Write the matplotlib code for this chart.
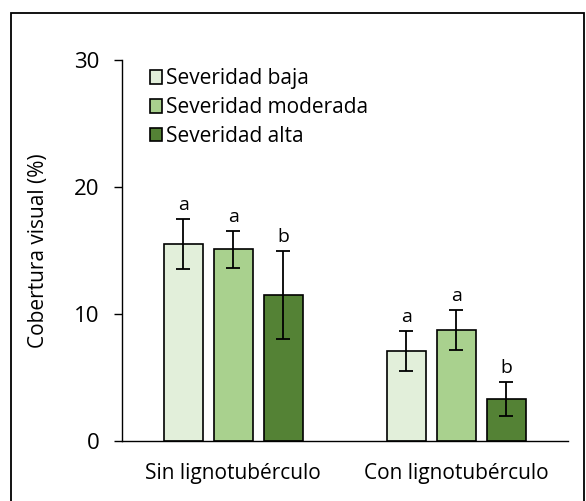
import numpy as np
import matplotlib.pyplot as plt
from matplotlib.patches import Rectangle

plt.rcParams['font.family'] = ['Open Sans', 'DejaVu Sans']

grupos = ['Sin lignotubérculo', 'Con lignotubérculo']
series = ['Severidad baja', 'Severidad moderada', 'Severidad alta']
medias = {
    'Severidad baja': [15.5, 7.1],
    'Severidad moderada': [15.1, 8.75],
    'Severidad alta': [11.5, 3.3],
}
errores = {
    'Severidad baja': [1.95, 1.56],
    'Severidad moderada': [1.45, 1.57],
    'Severidad alta': [3.45, 1.33],
}
letras = {
    'Severidad baja': ['a', 'a'],
    'Severidad moderada': ['a', 'a'],
    'Severidad alta': ['b', 'b'],
}
colores = ['#E2EFDA', '#A9D18E', '#548235']

fig = plt.figure(figsize=(5.86, 5.01), dpi=100)
ax = fig.add_axes([121.5 / 586, 1 - 441 / 501, (568 - 121.5) / 586, (441 - 60) / 501])

# marco exterior del gráfico
fig.patches.append(Rectangle((11 / 586, -0.05), (584 - 11) / 586, 1.05 - 12.5 / 501,
                             transform=fig.transFigure, fill=False,
                             edgecolor='black', linewidth=1.3))

x = np.arange(len(grupos))
ancho = 0.175
paso = 0.224
for i, s in enumerate(series):
    pos = x + (i - 1) * paso
    ax.bar(pos, medias[s], width=ancho, color=colores[i], edgecolor='black',
           linewidth=1.2, label=s, zorder=2)
    ax.errorbar(pos, medias[s], yerr=errores[s], fmt='none', ecolor='black',
                elinewidth=1.3, capsize=5, capthick=1.3, zorder=3)
    for p, m, e, l in zip(pos, medias[s], errores[s], letras[s]):
        ax.text(p, m + e + 0.4, l, ha='center', va='bottom', fontsize=14)

ax.set_xlim(-0.5, 1.5)
ax.set_ylim(0, 30)
ax.set_yticks([0, 10, 20, 30])
ax.set_xticks(x)
ax.set_xticklabels(grupos, fontsize=15)
ax.tick_params(axis='x', length=0, pad=16)
ax.tick_params(axis='y', labelsize=16, length=6, width=1, direction='out', pad=10)
ax.set_ylabel('Cobertura visual (%)', fontsize=15, labelpad=18)
for lado in ['top', 'right']:
    ax.spines[lado].set_visible(False)
for lado in ['left', 'bottom']:
    ax.spines[lado].set_linewidth(1.0)

ax.legend(loc='upper left', bbox_to_anchor=(0.045, 1.0), frameon=False,
          fontsize=15, handlelength=0.6, handleheight=0.6, handletextpad=0.15,
          labelspacing=0.38, borderaxespad=0)

fig.savefig('out.png', dpi=100)
